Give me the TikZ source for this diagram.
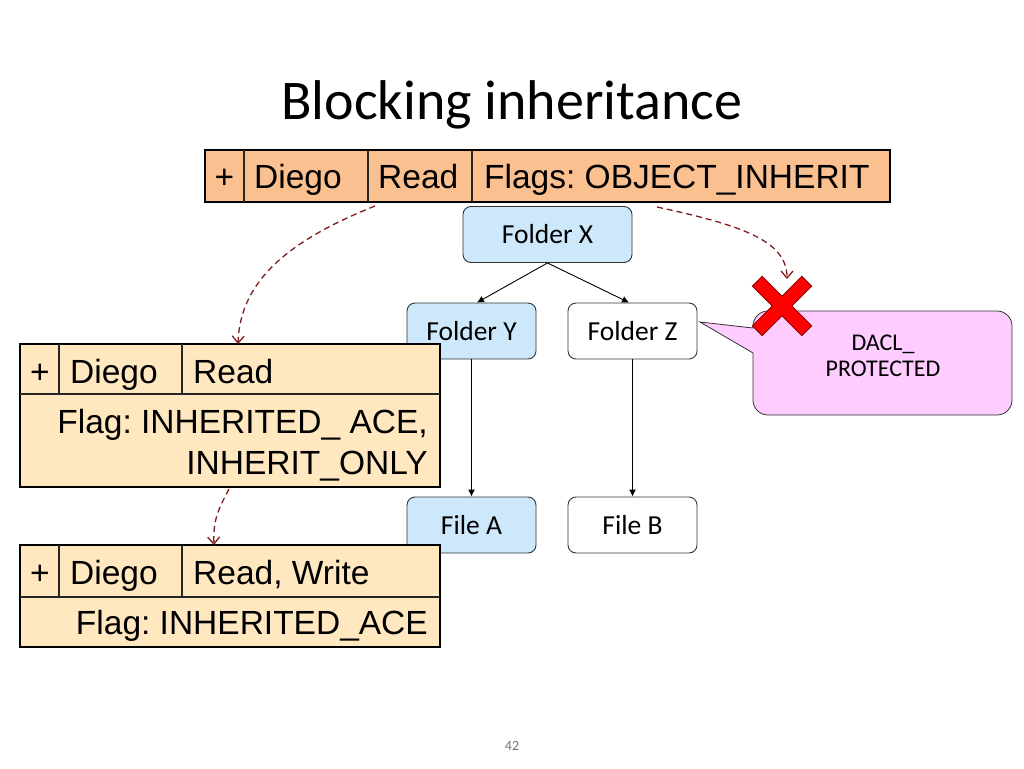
\documentclass[tikz,border=0pt]{standalone}
\usepackage{fontspec}
\setmainfont{Carlito}
\newfontfamily\arialf{Liberation Sans}
\usetikzlibrary{arrows.meta}
\definecolor{aceorange}{HTML}{FAC090}
\definecolor{acebeige}{HTML}{FFE8BF}
\definecolor{folderblue}{HTML}{CCE8FA}
\definecolor{calloutpink}{HTML}{FFCCFF}
\definecolor{inhred}{HTML}{7F1D1D}
\definecolor{xred}{HTML}{FF0000}
\frenchspacing
\begin{document}
\begin{tikzpicture}[x=1pt,y=-1pt,
  acetable/.style={draw=black,line width=2.6pt,inner sep=0pt,outer sep=0pt,anchor=north west},
  cellline/.style={draw=black!85,line width=1.3pt},
  acetext/.style={font=\arialf\fontsize{33.5}{40}\selectfont,inner sep=0pt},
  treebox/.style={draw=black!80,line width=0.9pt,rounded corners=8pt,minimum width=129pt,minimum height=56pt,inner sep=0pt,font=\fontsize{27.5}{32}\selectfont},
  treearrow/.style={draw=black,line width=0.9pt,-{Latex[length=7pt,width=7pt]}},
  inharrow/.style={draw=inhred,line width=1.3pt,dash pattern=on 6pt off 4pt,-{Straight Barb[length=7pt,width=12pt,line width=1.3pt]}},
]
\useasboundingbox (0,0) rectangle (1024,768);
\fill[white] (0,0) rectangle (1024,768);

% title
\node[font=\fontsize{56}{64}\selectfont,anchor=base,inner sep=0pt] (title) at (512,119) {Blocking inheritance};

% tree
\node[treebox,fill=folderblue,minimum width=169pt] (fx) at (547.5,234.5) {Folder X};
\node[treebox,fill=folderblue] (fy) at (471.5,331) {Folder Y};
\node[treebox,fill=white] (fz) at (632.5,331) {Folder Z};
\node[treebox,fill=folderblue] (fa) at (471.5,525) {File A};
\node[treebox,fill=white] (fb) at (632.5,525) {File B};
\draw[treearrow] (fx.south) -- (fy.north -| 477,0);
\draw[treearrow] (fx.south) -- (fz.north -| 629,0);
\draw[treearrow] (fy.south) -- (fa.north);
\draw[treearrow] (fz.south) -- (fb.north);

% callout
\draw[draw=black!80,line width=0.8pt,fill=calloutpink]
  (700,322) -- (753,328) [rounded corners=15pt] -- (753,311) -- (1012,311) -- (1012,415) -- (753,415) [sharp corners] -- (753,353) -- cycle;
\node[font=\fontsize{24}{26}\selectfont,align=center,inner sep=0pt,anchor=north] (dacl) at (883,335) {DACL\_\\PROTECTED};

% red cross
\begin{scope}[shift={(782,306)},rotate=45]
\draw[fill=xred,draw=red!50!black,line width=0.8pt]
  (-7,-35) -- (7,-35) -- (7,-7) -- (35,-7) -- (35,7) -- (7,7) -- (7,35) -- (-7,35) -- (-7,7) -- (-35,7) -- (-35,-7) -- (-7,-7) -- cycle;
\end{scope}
\coordinate (xtop) at (787,279);

% top ACE
\node[acetable,fill=aceorange,minimum width=685pt,minimum height=52pt] (ace) at (205,150) {};
\draw[cellline] (244,150) -- (244,202) (368,150) -- (368,202) (472,150) -- (472,202);
\node[acetext,anchor=base] (ace1) at (224.5,188) {+};
\node[acetext,anchor=base west] (ace2) at (254,188) {Diego};
\node[acetext,anchor=base west] (ace3) at (378,188) {Read};
\node[acetext,anchor=base west] (ace4) at (484,188) {Flags: OBJECT\_INHERIT};

% table 1
\node[acetable,fill=acebeige,minimum width=420pt,minimum height=143pt] (t1) at (20,344) {};
\draw[cellline] (20,394) -- (440,394) (59,344) -- (59,394) (182,344) -- (182,394);
\node[acetext,anchor=base] (t1a) at (40,383) {+};
\node[acetext,anchor=base west] (t1b) at (70,383) {Diego};
\node[acetext,anchor=base west] (t1c) at (193,383) {Read};
\node[acetext,anchor=base east] (t1d) at (428,433) {Flag: INHERITED\_ ACE,};
\node[acetext,anchor=base east] (t1e) at (428,474) {INHERIT\_ONLY};

% table 2
\node[acetable,fill=acebeige,minimum width=420pt,minimum height=102pt] (t2) at (20,545) {};
\draw[cellline] (20,597) -- (440,597) (59,545) -- (59,597) (182,545) -- (182,597);
\node[acetext,anchor=base] (t2a) at (40,584) {+};
\node[acetext,anchor=base west] (t2b) at (70,584) {Diego};
\node[acetext,anchor=base west] (t2c) at (193,584) {Read, Write};
\node[acetext,anchor=base east] (t2d) at (428,634) {Flag: INHERITED\_ACE};

% inheritance arrows
\coordinate (s1) at (375,206);
\coordinate (s2) at (657,207);
\coordinate (s3) at (229,489);
\draw[inharrow] (s1) .. controls (290,240) and (240,280) .. (t1.north -| 238,0);
\draw[inharrow] (s2) .. controls (740,225) and (787,240) .. (xtop);
\draw[inharrow] (s3) .. controls (218,510) and (213,520) .. (t2.north -| 214,0);

% page number
\node[font=\fontsize{14}{16}\selectfont,text=black!55,inner sep=0pt] (pg) at (512,746) {42};
\end{tikzpicture}
\end{document}
